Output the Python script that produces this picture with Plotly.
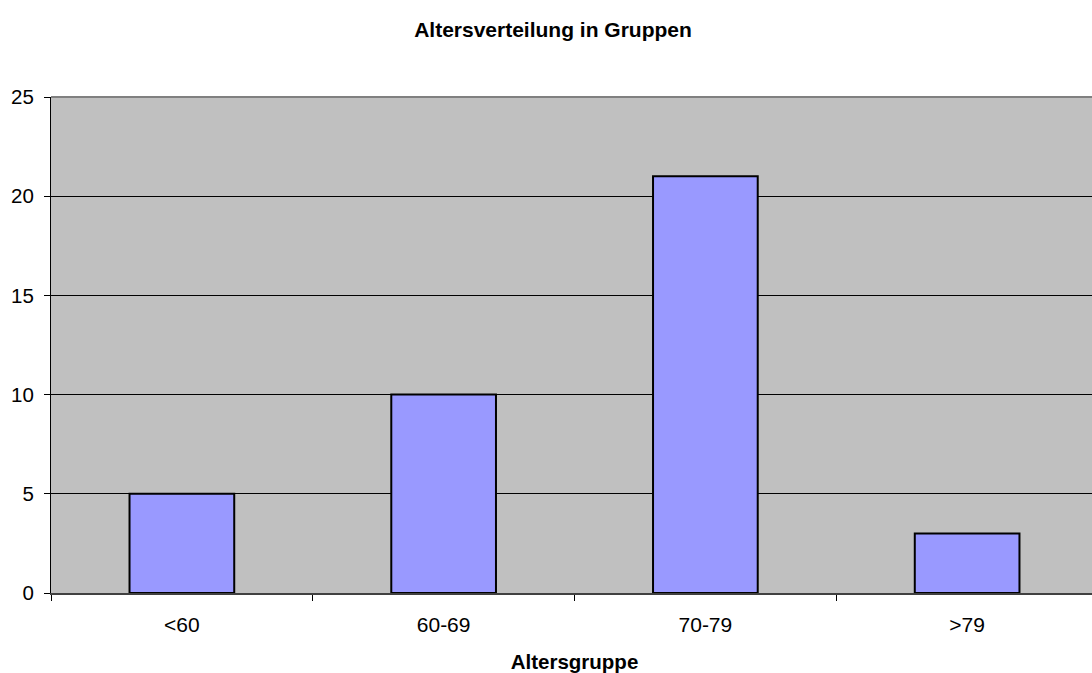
import plotly.graph_objects as go

categories = ["<60", "60-69", "70-79", ">79"]
values = [5, 10, 21, 3]
y_ticks = [0, 5, 10, 15, 20, 25]

fig = go.Figure(go.Bar(
    x=categories, y=values, width=0.4,
    marker=dict(color="#9999FF", line=dict(color="black", width=2)),
))

W, H = 1098, 673
fig.update_layout(
    width=W, height=H,
    margin=dict(l=51, r=0, t=97, b=80),
    paper_bgcolor="white", plot_bgcolor="#C0C0C0",
    font=dict(family="Liberation Sans, Arial", size=20, color="black"),
    title=dict(text="<b>Altersverteilung in Gruppen</b>", x=553 / W, xanchor="center",
               y=1 - 30 / H, yanchor="middle", font=dict(size=21)),
    showlegend=False,
)
fig.update_xaxes(
    type="category", tickson="boundaries", ticks="outside", ticklen=6, tickcolor="black",
    showline=True, linecolor="#404040", linewidth=2, showgrid=False,
    title=dict(text="<b>Altersgruppe</b>", font=dict(size=20.5), standoff=22),
    tickfont=dict(size=21), ticklabelstandoff=12,
)
fig.update_yaxes(
    range=[0, 25], tickvals=y_ticks, ticks="outside", ticklen=6, tickcolor="black",
    showline=True, linecolor="black", linewidth=1,
    showgrid=True, gridcolor="black", gridwidth=1, zeroline=False,
    tickfont=dict(size=20.5), ticklabelstandoff=6,
)
fig.add_shape(type="line", xref="paper", yref="paper", x0=0, x1=1, y0=1, y1=1,
              line=dict(color="#808080", width=2))

fig.write_html(
    "out.html",
    config={"displayModeBar": False},
    post_script="document.body.style.margin='0';document.body.style.overflow='hidden';",
)
